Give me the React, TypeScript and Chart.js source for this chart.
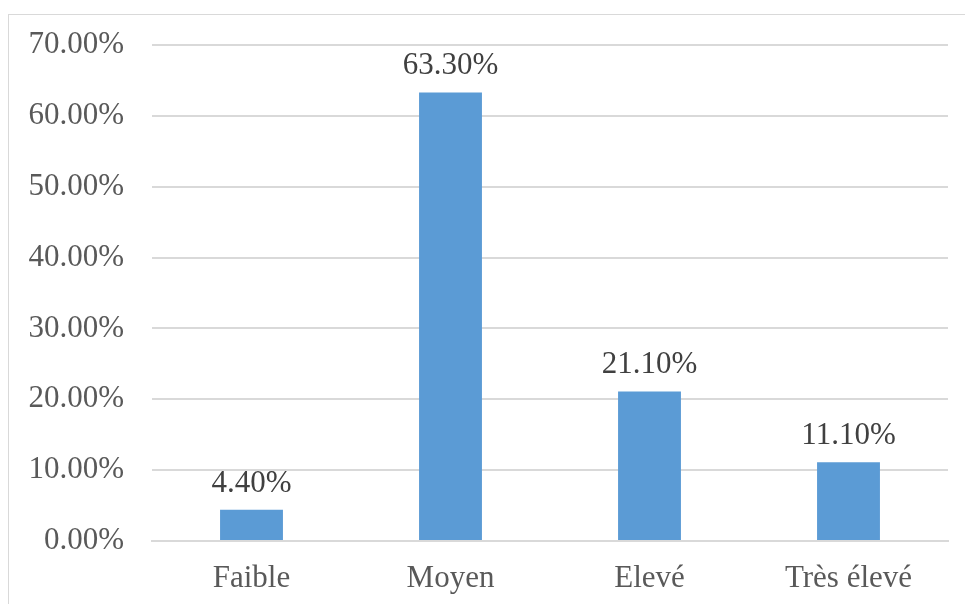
import React, { useEffect, useRef } from "react";
import { Chart, registerables } from "chart.js";

Chart.register(...registerables);

const categories = ["Faible", "Moyen", "Elevé", "Très élevé"];
const values = [4.4, 63.3, 21.1, 11.1];
const valueLabels = ["4.40%", "63.30%", "21.10%", "11.10%"];
const yMin = 0;
const yMax = 70;
const yStep = 10;

const FONT = '"Liberation Serif", "Times New Roman", serif';

const dataLabelPlugin = {
  id: "dataLabels",
  afterDatasetsDraw(chart: any) {
    const ctx = chart.ctx;
    const meta = chart.getDatasetMeta(0);
    ctx.save();
    ctx.font = `31px ${FONT}`;
    ctx.fillStyle = "#404040";
    ctx.textAlign = "center";
    ctx.textBaseline = "alphabetic";
    meta.data.forEach((bar: any, i: number) => {
      ctx.fillText(valueLabels[i], bar.x, bar.y - 18);
    });
    ctx.restore();
  },
};

export default function App() {
  const ref = useRef<HTMLCanvasElement | null>(null);
  useEffect(() => {
    if (!ref.current) return;
    const chart = new Chart(ref.current, {
      type: "bar",
      data: {
        labels: categories,
        datasets: [
          {
            data: values,
            backgroundColor: "#5B9BD5",
            barPercentage: 0.316,
            categoryPercentage: 1,
          },
        ],
      },
      options: {
        animation: false,
        responsive: false,
        maintainAspectRatio: false,
        layout: { padding: { left: 0, right: 17, top: 30, bottom: 0 } },
        plugins: {
          legend: { display: false },
          tooltip: { enabled: false },
        },
        scales: {
          x: {
            grid: { display: false, drawTicks: false },
            border: { display: true, color: "#d9d9d9", width: 2 },
            ticks: {
              color: "#595959",
              font: { family: FONT, size: 31 },
              padding: 19,
            },
            afterFit(scale: any) {
              scale.height = 63;
              scale.paddingLeft = 0;
              scale.paddingRight = 0;
            },
          },
          y: {
            min: yMin,
            max: yMax,
            grid: { color: "#d9d9d9", lineWidth: 2, drawTicks: false },
            border: { display: false },
            ticks: {
              stepSize: yStep,
              color: "#595959",
              font: { family: FONT, size: 31 },
              padding: 28,
              callback: (v: any) => Number(v).toFixed(2) + "%",
            },
            afterFit(scale: any) {
              scale.width = 143;
              scale.paddingTop = 0;
              scale.paddingBottom = 0;
            },
          },
        },
      },
      plugins: [dataLabelPlugin],
    });
    return () => chart.destroy();
  }, []);

  return (
    <div
      style={{
        position: "fixed",
        left: 8,
        top: 14,
        width: 957,
        height: 590,
        overflow: "hidden",
      }}
    >
      <div
        style={{
          width: 980,
          height: 620,
          border: "1px solid #d9d9d9",
          boxSizing: "border-box",
          position: "relative",
          background: "#fff",
        }}
      >
        <canvas
          ref={ref}
          width={956}
          height={589}
          style={{ position: "absolute", left: 0, top: 0, width: 956, height: 589 }}
        />
      </div>
    </div>
  );
}
